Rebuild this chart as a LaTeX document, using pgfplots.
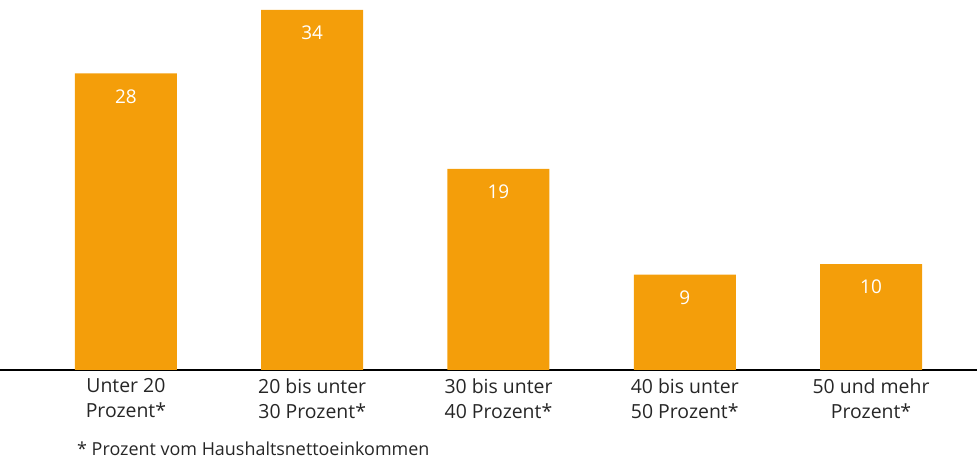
\documentclass[border=0pt]{standalone}
\usepackage{pgfplots}
\pgfplotsset{compat=1.18}
\usepackage{fontspec}
\setmainfont{Open Sans}
\definecolor{barorange}{HTML}{F49E0A}
\begin{document}
\begin{tikzpicture}[x=1bp,y=1bp]
\path[use as bounding box] (0,-89) rectangle (977,370);
\begin{axis}[
  at={(0,0)}, anchor=south west,
  scale only axis,
  width=977bp, height=370bp,
  xmin=-0.676, xmax=4.569,
  ymin=0, ymax=34.94,
  axis x line=bottom, axis y line=none,
  axis line style={black, line width=2bp, -},
  ybar, bar width=102bp,
  xtick=data,
  xticklabels={{Unter 20\\Prozent*},{20 bis unter\\30 Prozent*},{30 bis unter\\40 Prozent*},{40 bis unter\\50 Prozent*},{50 und mehr\\Prozent*}},
  xticklabel style={align=center, font=\fontsize{19.5}{25}\selectfont, text=black!85, yshift=-5bp},
  major tick length=0pt,
  nodes near coords,
  /pgf/number format/assume math mode=true,
  every node near coord/.append style={anchor=center, yshift=-23bp, text=white, font=\fontsize{19}{20}\selectfont},
  clip=false,
]
\addplot[fill=barorange, draw=none] coordinates {(0,28) (1,34) (2,19) (3,9) (4,10)};
\end{axis}
\node[anchor=west, inner sep=0pt, font=\fontsize{18}{20}\selectfont, text=black!85] at (77,-79) {* Prozent vom Haushaltsnettoeinkommen};
\end{tikzpicture}
\end{document}
